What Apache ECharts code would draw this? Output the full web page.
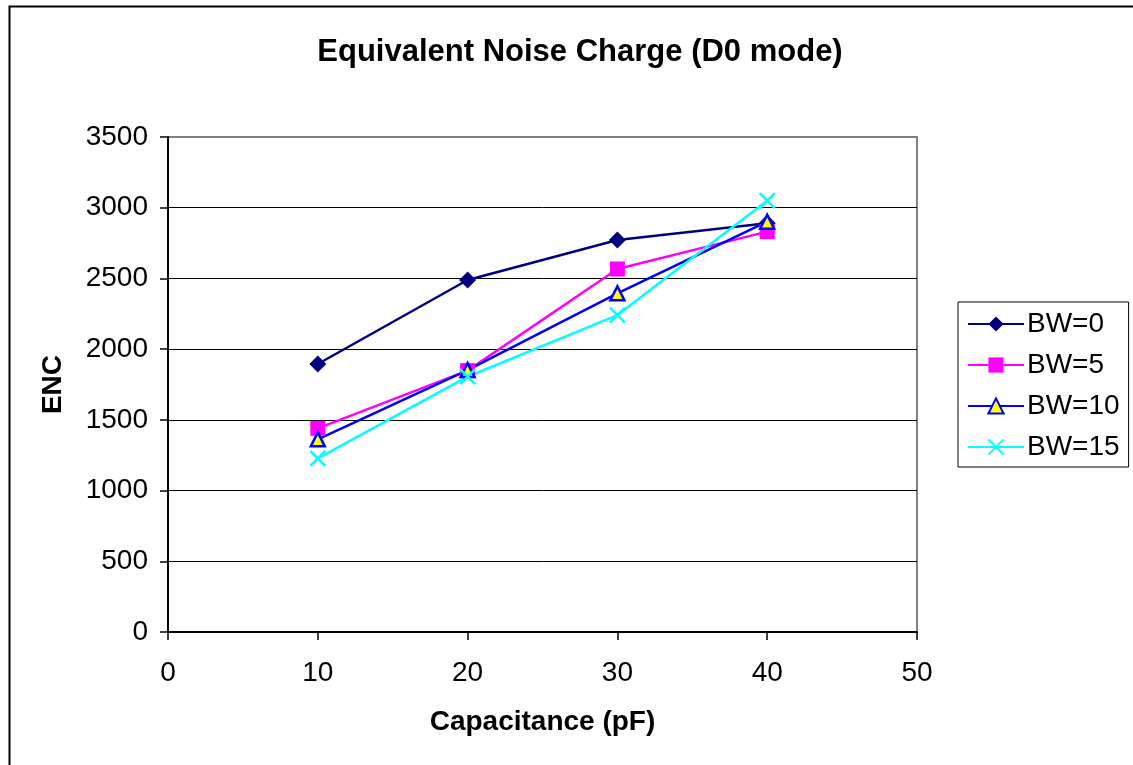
<!DOCTYPE html>
<html>
<head>
<meta charset="utf-8">
<script src="https://cdn.jsdelivr.net/npm/echarts@6/dist/echarts.min.js"></script>
<style>
html,body{margin:0;padding:0;background:#fff;}
#chart{width:1133px;height:765px;}
</style>
</head>
<body>
<div id="chart"></div>
<script>
const capacitance = [10, 20, 30, 40];
const bw0  = [1895, 2489, 2772, 2890];
const bw5  = [1440, 1848, 2567, 2831];
const bw10 = [1362, 1852, 2395, 2901];
const bw15 = [1228, 1805, 2241, 3050];
const seriesNames = ['BW=0', 'BW=5', 'BW=10', 'BW=15'];
const xTicks = [0, 10, 20, 30, 40, 50];
const yTicks = [0, 500, 1000, 1500, 2000, 2500, 3000, 3500];

const FONT = '"Liberation Sans", Arial, sans-serif';
const pairs = arr => arr.map((v, i) => [capacitance[i], v]);
const crossPath = 'path://M0,0L10,10M10,0L0,10';

const chart = echarts.init(document.getElementById('chart'), null, {renderer: 'canvas'});
chart.setOption({
  animation: false,
  backgroundColor: '#fff',
  textStyle: {fontFamily: FONT},
  title: {
    text: 'Equivalent Noise Charge (D0 mode)',
    left: 575, top: 32, textAlign: 'center',
    textStyle: {fontSize: 31, fontWeight: 'bold', color: '#000', fontFamily: FONT}
  },
  graphic: [{
    type: 'rect', silent: true, z: -1,
    shape: {x: 9.5, y: 6.5, width: 1200, height: 900},
    style: {fill: 'none', stroke: '#000', lineWidth: 2}
  }],
  grid: {
    left: 168, top: 137, right: 216, bottom: 133,
    show: true, borderColor: '#808080', borderWidth: 2, backgroundColor: '#fff'
  },
  legend: {
    left: 958, top: 302,
    orient: 'vertical',
    data: seriesNames,
    itemWidth: 56, itemHeight: 19, itemGap: 13,
    padding: [8, 9, 6, 9],
    borderColor: '#000', borderWidth: 1,
    backgroundColor: '#fff',
    textStyle: {fontSize: 28, lineHeight: 28, color: '#000', fontFamily: FONT, padding: [0, 0, 0, -2]}
  },
  xAxis: {
    type: 'value', min: 0, max: 50, interval: 10,
    name: 'Capacitance (pF)', nameLocation: 'middle', nameGap: 76,
    nameTextStyle: {fontSize: 28, fontWeight: 'bold', color: '#000', fontFamily: FONT},
    axisLine: {lineStyle: {color: '#000', width: 2}},
    axisTick: {show: true, inside: false, length: 8, lineStyle: {color: '#000', width: 1.5}},
    axisLabel: {fontSize: 28, color: '#000', margin: 27, fontFamily: FONT,
      formatter: v => xTicks.includes(v) ? String(v) : ''},
    splitLine: {show: false}
  },
  yAxis: {
    type: 'value', min: 0, max: 3500, interval: 500,
    name: 'ENC', nameLocation: 'middle', nameGap: 101, nameRotate: 90,
    nameTextStyle: {fontSize: 28, fontWeight: 'bold', color: '#000', fontFamily: FONT},
    axisLine: {show: true, lineStyle: {color: '#000', width: 2}},
    axisTick: {show: true, inside: false, length: 8, lineStyle: {color: '#000', width: 1.5}},
    axisLabel: {fontSize: 28, color: '#000', margin: 20, fontFamily: FONT,
      formatter: v => yTicks.includes(v) ? String(v) : ''},
    splitLine: {show: true, lineStyle: {color: ['#000','#000','#000','#000','#000','#000','#000','#808080'], width: 1}}
  },
  series: [
    {
      name: 'BW=0', type: 'line', data: pairs(bw0),
      symbol: 'diamond', symbolSize: 17,
      lineStyle: {color: '#000080', width: 2.5},
      itemStyle: {color: '#000080', borderColor: '#000080', borderWidth: 0}
    },
    {
      name: 'BW=5', type: 'line', data: pairs(bw5),
      symbol: 'rect', symbolSize: 15,
      lineStyle: {color: '#FF00FF', width: 2.5},
      itemStyle: {color: '#FF00FF', borderColor: '#FF00FF', borderWidth: 0}
    },
    {
      name: 'BW=10', type: 'line', data: pairs(bw10),
      symbol: 'triangle', symbolSize: 14,
      lineStyle: {color: '#0000FF', width: 2.5},
      itemStyle: {color: '#FFFF00', borderColor: '#0000FF', borderWidth: 2.5}
    },
    {
      name: 'BW=15', type: 'line', data: pairs(bw15),
      symbol: crossPath, symbolSize: 15,
      lineStyle: {color: '#00FFFF', width: 2.5},
      itemStyle: {color: '#00FFFF', borderColor: '#00FFFF', borderWidth: 2.5}
    }
  ]
});
</script>
</body>
</html>
